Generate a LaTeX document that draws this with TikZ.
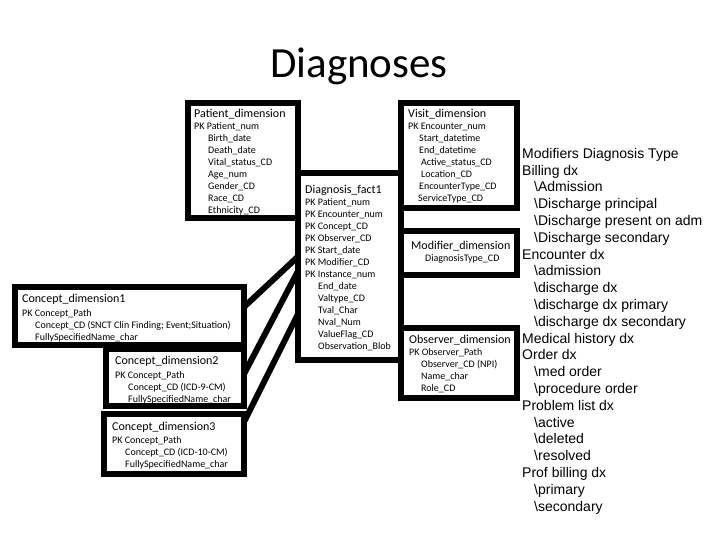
\documentclass[tikz,border=0pt]{standalone}
\usepackage{fontspec}
\setmainfont{Carlito}
\newfontfamily\listfont{Liberation Sans}
\usetikzlibrary{positioning}

\tikzset{
  tbl/.style={draw, line width=6pt, fill=white, rectangle, inner sep=0pt, outer sep=0pt, anchor=north west},
  tbltext/.style={anchor=north west, align=left, inner sep=0pt, font=\fontsize{10}{12}\selectfont},
  link/.style={line width=6pt},
  dxlist/.style={anchor=north west, align=left, inner sep=0pt, font=\listfont\fontsize{14}{16.8}\selectfont},
}
\newcommand{\tblhead}[1]{{\fontsize{12}{12}\selectfont #1}}
\newcommand{\ind}{\hspace*{13pt}}
\newcommand{\dxsub}{\hspace*{12pt}\textbackslash}

\begin{document}
\begin{tikzpicture}[x=1pt, y=-1pt]
  \useasboundingbox (0,0) rectangle (720,540);
  \node[font=\fontsize{43}{43}\selectfont] (title) at (359,66) {Diagnoses};

  % tables
  \node[tbl, minimum width=109.5pt, minimum height=115pt] (patient) at (188,103) {};
  \node[tbl, minimum width=116pt, minimum height=105pt] (visit) at (401,103) {};
  \node[tbl, minimum width=103.5pt, minimum height=186.5pt] (fact) at (297.5,173) {};
  \node[tbl, minimum width=116pt, minimum height=44pt] (modifier) at (401,231) {};
  \node[tbl, minimum width=116pt, minimum height=70pt] (observer) at (401,328) {};
  \node[tbl, minimum width=229pt, minimum height=58pt] (concept1) at (15,287) {};
  \node[tbl, minimum width=138pt, minimum height=57pt] (concept2) at (106,349) {};
  \node[tbl, minimum width=140pt, minimum height=60pt] (concept3) at (104,414) {};

  % links
  \draw[link] (visit.south west) -- (modifier.north west);
  \draw[link] (modifier.south west) -- (observer.north west);
  \draw[link] ([yshift=-20pt]concept1.north east) -- ([yshift=-84pt]fact.north west);
  \draw[link] ([yshift=-25pt]concept2.north east) -- ([yshift=-99pt]fact.north west);
  \draw[link] ([yshift=-8pt]concept3.north east) -- ([yshift=-142pt]fact.north west);

  % table contents
  \node[tbltext] (patienttext) at (194,108.5) {\tblhead{Patient\_dimension}\\
    PK Patient\_num\\ \hspace*{14pt}Birth\_date\\ \hspace*{14pt}Death\_date\\
    \hspace*{14pt}Vital\_status\_CD\\ \hspace*{14pt}Age\_num\\ \hspace*{14pt}Gender\_CD\\
    \hspace*{14pt}Race\_CD\\ \hspace*{14pt}Ethnicity\_CD};
  \node[tbltext] (visittext) at (408,108.5) {\tblhead{Visit\_dimension}\\
    PK Encounter\_num\\ \hspace*{11pt}Start\_datetime\\ \hspace*{11pt}End\_datetime\\
    \ind Active\_status\_CD\\ \ind Location\_CD\\ \hspace*{11pt}EncounterType\_CD\\
    \hspace*{10pt}ServiceType\_CD};
  \node[tbltext] (facttext) at (305,185.5) {\tblhead{Diagnosis\_fact1}\\
    PK Patient\_num\\ PK Encounter\_num\\ PK Concept\_CD\\ PK Observer\_CD\\
    PK Start\_date\\ PK Modifier\_CD\\ PK Instance\_num\\ \ind End\_date\\
    \ind Valtype\_CD\\ \ind Tval\_Char\\ \ind Nval\_Num\\ \ind ValueFlag\_CD\\
    \ind Observation\_Blob};
  \node[tbltext] (modifiertext) at (411,240.5) {\tblhead{Modifier\_dimension}\\
    \hspace*{14pt}DiagnosisType\_CD};
  \node[tbltext] (observertext) at (409,334.5) {\tblhead{Observer\_dimension}\\
    PK Observer\_Path\\ \hspace*{12pt}Observer\_CD (NPI)\\ \hspace*{12pt}Name\_char\\
    \hspace*{12pt}Role\_CD};
  \node[tbltext] (concept1text) at (22,293.5) {\tblhead{Concept\_dimension1}\\[2pt]
    PK Concept\_Path\\ \ind Concept\_CD (SNCT Clin Finding; Event;Situation)\\
    \ind FullySpecifiedName\_char};
  \node[tbltext] (concept2text) at (115,355.5) {\tblhead{Concept\_dimension2}\\[2pt]
    PK Concept\_Path\\ \ind Concept\_CD (ICD-9-CM)\\ \ind FullySpecifiedName\_char};
  \node[tbltext] (concept3text) at (112,421.5) {\tblhead{Concept\_dimension3}\\[1pt]
    PK Concept\_Path\\ \ind Concept\_CD (ICD-10-CM)\\ \ind FullySpecifiedName\_char};

  % diagnosis types
  \node[dxlist] (dxtypes) at (522,148) {Modifiers Diagnosis Type\\ Billing dx\\
    \dxsub Admission\\ \dxsub Discharge principal\\ \dxsub Discharge present on adm\\
    \dxsub Discharge secondary\\ Encounter dx\\ \dxsub admission\\ \dxsub discharge dx\\
    \dxsub discharge dx primary\\ \dxsub discharge dx secondary\\ Medical history dx\\
    Order dx\\ \dxsub med order\\ \dxsub procedure order\\ Problem list dx\\
    \dxsub active\\ \dxsub deleted\\ \dxsub resolved\\ Prof billing dx\\
    \dxsub primary\\ \dxsub secondary};
\end{tikzpicture}
\end{document}
